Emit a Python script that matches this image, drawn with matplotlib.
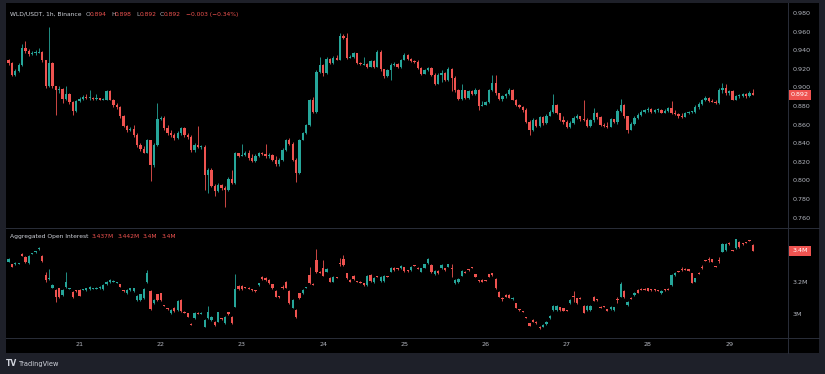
import matplotlib
matplotlib.use("Agg")
import matplotlib.pyplot as plt
import numpy as np
from matplotlib.patches import Rectangle
from matplotlib.lines import Line2D

# ---------------- data (WLD/USDT 1h, Binance) ----------------
first_open = 0.930
price_close = [
    0.926, 0.913, 0.918, 0.924, 0.942, 0.939, 0.936, 0.937, 0.938, 0.938,
    0.929, 0.901, 0.926, 0.901, 0.897, 0.898, 0.888, 0.893, 0.884, 0.875,
    0.885, 0.888, 0.890, 0.889, 0.889, 0.888, 0.889, 0.887, 0.887, 0.896,
    0.887, 0.881, 0.879, 0.869, 0.859, 0.854, 0.855, 0.849, 0.838, 0.834,
    0.830, 0.844, 0.817, 0.838, 0.866, 0.867, 0.856, 0.851, 0.849, 0.846,
    0.851, 0.856, 0.849, 0.847, 0.833, 0.838, 0.836, 0.836, 0.806, 0.811,
    0.794, 0.789, 0.795, 0.792, 0.790, 0.802, 0.797, 0.829, 0.826, 0.827,
    0.830, 0.824, 0.821, 0.826, 0.829, 0.828, 0.826, 0.827, 0.822, 0.818,
    0.822, 0.833, 0.844, 0.839, 0.822, 0.808, 0.844, 0.851, 0.860, 0.887,
    0.874, 0.917, 0.924, 0.915, 0.931, 0.926, 0.932, 0.930, 0.955, 0.953,
    0.932, 0.933, 0.937, 0.926, 0.925, 0.925, 0.922, 0.928, 0.922, 0.938,
    0.920, 0.912, 0.919, 0.924, 0.925, 0.922, 0.930, 0.935, 0.931, 0.928,
    0.927, 0.921, 0.914, 0.919, 0.921, 0.913, 0.904, 0.913, 0.915, 0.908,
    0.920, 0.910, 0.897, 0.888, 0.897, 0.889, 0.896, 0.893, 0.897, 0.880,
    0.881, 0.884, 0.897, 0.905, 0.894, 0.888, 0.891, 0.893, 0.897, 0.887,
    0.881, 0.879, 0.876, 0.863, 0.854, 0.865, 0.859, 0.868, 0.862, 0.869,
    0.874, 0.881, 0.872, 0.865, 0.863, 0.857, 0.862, 0.867, 0.869, 0.866,
    0.865, 0.859, 0.865, 0.873, 0.868, 0.860, 0.859, 0.857, 0.866, 0.863,
    0.875, 0.881, 0.869, 0.854, 0.861, 0.867, 0.870, 0.874, 0.876, 0.877,
    0.874, 0.876, 0.876, 0.873, 0.875, 0.878, 0.872, 0.871, 0.869, 0.868,
    0.872, 0.874, 0.874, 0.879, 0.882, 0.887, 0.889, 0.885, 0.884, 0.883,
    0.897, 0.899, 0.894, 0.896, 0.887, 0.891, 0.891, 0.893, 0.891, 0.894, 0.892,
]
price_high = [
    0.931, 0.927, 0.920, 0.926, 0.947, 0.950, 0.941, 0.939, 0.940, 0.942,
    0.939, 0.930, 0.965, 0.927, 0.902, 0.901, 0.899, 0.901, 0.894, 0.885,
    0.887, 0.890, 0.892, 0.893, 0.897, 0.890, 0.893, 0.889, 0.889, 0.897,
    0.897, 0.888, 0.883, 0.880, 0.870, 0.860, 0.857, 0.860, 0.851, 0.840,
    0.837, 0.845, 0.844, 0.840, 0.883, 0.869, 0.869, 0.860, 0.854, 0.851,
    0.853, 0.858, 0.857, 0.851, 0.849, 0.840, 0.859, 0.838, 0.838, 0.813,
    0.813, 0.796, 0.797, 0.796, 0.794, 0.804, 0.811, 0.831, 0.830, 0.839,
    0.832, 0.833, 0.828, 0.828, 0.831, 0.831, 0.839, 0.829, 0.828, 0.826,
    0.824, 0.835, 0.845, 0.846, 0.841, 0.824, 0.845, 0.852, 0.861, 0.888,
    0.890, 0.919, 0.933, 0.925, 0.933, 0.932, 0.934, 0.935, 0.958, 0.957,
    0.958, 0.935, 0.938, 0.937, 0.927, 0.933, 0.926, 0.930, 0.929, 0.940,
    0.940, 0.920, 0.920, 0.926, 0.927, 0.926, 0.931, 0.937, 0.936, 0.932,
    0.930, 0.929, 0.922, 0.920, 0.922, 0.922, 0.915, 0.915, 0.919, 0.917,
    0.922, 0.921, 0.912, 0.898, 0.904, 0.897, 0.897, 0.897, 0.899, 0.898,
    0.885, 0.885, 0.898, 0.913, 0.913, 0.894, 0.892, 0.894, 0.899, 0.898,
    0.888, 0.882, 0.880, 0.878, 0.865, 0.867, 0.866, 0.869, 0.869, 0.871,
    0.876, 0.893, 0.882, 0.873, 0.869, 0.865, 0.864, 0.869, 0.871, 0.869,
    0.886, 0.867, 0.866, 0.878, 0.874, 0.869, 0.862, 0.863, 0.867, 0.866,
    0.877, 0.888, 0.882, 0.869, 0.863, 0.869, 0.872, 0.876, 0.877, 0.879,
    0.878, 0.877, 0.878, 0.877, 0.877, 0.879, 0.885, 0.876, 0.873, 0.872,
    0.874, 0.875, 0.875, 0.881, 0.884, 0.888, 0.891, 0.890, 0.888, 0.887,
    0.899, 0.905, 0.904, 0.897, 0.897, 0.892, 0.893, 0.894, 0.894, 0.896, 0.898,
]
price_low = [
    0.924, 0.912, 0.912, 0.917, 0.923, 0.937, 0.934, 0.935, 0.935, 0.937,
    0.927, 0.899, 0.900, 0.899, 0.870, 0.894, 0.883, 0.887, 0.882, 0.870,
    0.874, 0.884, 0.887, 0.888, 0.887, 0.887, 0.887, 0.886, 0.886, 0.886,
    0.886, 0.879, 0.877, 0.867, 0.857, 0.852, 0.853, 0.847, 0.836, 0.832,
    0.829, 0.829, 0.799, 0.815, 0.837, 0.865, 0.854, 0.849, 0.847, 0.844,
    0.845, 0.849, 0.847, 0.845, 0.831, 0.831, 0.835, 0.834, 0.790, 0.786,
    0.793, 0.783, 0.788, 0.790, 0.771, 0.789, 0.796, 0.796, 0.825, 0.826,
    0.826, 0.822, 0.820, 0.820, 0.825, 0.827, 0.824, 0.824, 0.821, 0.816,
    0.816, 0.821, 0.832, 0.838, 0.821, 0.798, 0.807, 0.843, 0.850, 0.859,
    0.873, 0.873, 0.916, 0.912, 0.914, 0.925, 0.925, 0.929, 0.929, 0.952,
    0.931, 0.932, 0.932, 0.925, 0.924, 0.924, 0.921, 0.922, 0.921, 0.922,
    0.918, 0.910, 0.911, 0.908, 0.923, 0.921, 0.921, 0.929, 0.930, 0.927,
    0.926, 0.920, 0.913, 0.914, 0.918, 0.912, 0.903, 0.904, 0.906, 0.907,
    0.907, 0.896, 0.895, 0.887, 0.887, 0.888, 0.888, 0.892, 0.892, 0.876,
    0.880, 0.881, 0.883, 0.896, 0.892, 0.887, 0.885, 0.889, 0.892, 0.886,
    0.880, 0.878, 0.874, 0.862, 0.849, 0.853, 0.857, 0.857, 0.860, 0.861,
    0.869, 0.873, 0.871, 0.864, 0.861, 0.856, 0.856, 0.861, 0.866, 0.864,
    0.864, 0.857, 0.858, 0.863, 0.866, 0.859, 0.858, 0.856, 0.857, 0.862,
    0.861, 0.874, 0.867, 0.851, 0.854, 0.860, 0.866, 0.869, 0.873, 0.874,
    0.873, 0.873, 0.874, 0.872, 0.872, 0.874, 0.871, 0.870, 0.867, 0.867,
    0.868, 0.871, 0.872, 0.873, 0.877, 0.881, 0.885, 0.884, 0.884, 0.882,
    0.882, 0.894, 0.892, 0.892, 0.886, 0.887, 0.889, 0.890, 0.889, 0.890, 0.892,
]
price_open = [first_open] + price_close[:-1]   # hourly candles open at the previous close

# Aggregated open interest (millions)
oi_open = [
    3.332, 3.315, 3.315, 3.320, 3.381, 3.364, 3.322, 3.383, 3.394, 3.415,
    3.370, 3.248, 3.224, 3.167, 3.152, 3.163, 3.121, 3.173, 3.161, 3.142,
    3.150, 3.152, 3.154, 3.152, 3.159, 3.161, 3.163, 3.163, 3.159, 3.188,
    3.201, 3.207, 3.199, 3.188, 3.148, 3.131, 3.152, 3.146, 3.089, 3.089,
    3.099, 3.201, 3.146, 3.068, 3.125, 3.131, 3.055, 3.034, 3.004, 3.040,
    3.025, 3.089, 3.013, 3.004, 2.936, 2.972, 3.006, 3.004, 2.919, 2.972,
    2.962, 2.951, 2.951, 2.970, 2.941, 3.010, 2.983, 3.046, 3.180, 3.180,
    3.169, 3.165, 3.154, 3.148, 3.184, 3.237, 3.231, 3.216, 3.188, 3.146,
    3.112, 3.169, 3.205, 3.146, 3.040, 3.025, 3.131, 3.131, 3.165, 3.248,
    3.190, 3.343, 3.267, 3.294, 3.269, 3.231, 3.205, 3.233, 3.324, 3.349,
    3.258, 3.216, 3.243, 3.207, 3.203, 3.195, 3.184, 3.248, 3.201, 3.239,
    3.209, 3.209, 3.239, 3.269, 3.294, 3.288, 3.290, 3.296, 3.275, 3.279,
    3.309, 3.292, 3.269, 3.294, 3.322, 3.311, 3.252, 3.273, 3.290, 3.290,
    3.300, 3.292, 3.195, 3.201, 3.243, 3.267, 3.281, 3.296, 3.252, 3.211,
    3.216, 3.214, 3.252, 3.258, 3.222, 3.142, 3.101, 3.121, 3.121, 3.095,
    3.068, 3.027, 3.017, 2.979, 2.941, 2.962, 2.951, 2.919, 2.919, 2.936,
    2.972, 3.025, 3.025, 3.042, 3.036, 3.023, 3.068, 3.110, 3.099, 3.101,
    3.051, 3.025, 3.025, 3.110, 3.091, 3.044, 3.049, 3.030, 3.030, 3.025,
    3.091, 3.110, 3.148, 3.057, 3.101, 3.121, 3.152, 3.159, 3.159, 3.163,
    3.154, 3.154, 3.150, 3.131, 3.154, 3.159, 3.184, 3.248, 3.271, 3.286,
    3.286, 3.284, 3.258, 3.205, 3.260, 3.298, 3.341, 3.349, 3.347, 3.303,
    3.341, 3.396, 3.406, 3.453, 3.404, 3.417, 3.459, 3.447, 3.455, 3.468, 3.437,
]
oi_close = [
    3.349, 3.300, 3.324, 3.322, 3.370, 3.328, 3.370, 3.385, 3.396, 3.417,
    3.336, 3.216, 3.226, 3.184, 3.110, 3.110, 3.152, 3.201, 3.163, 3.110,
    3.144, 3.116, 3.157, 3.163, 3.173, 3.163, 3.165, 3.173, 3.184, 3.205,
    3.216, 3.209, 3.201, 3.173, 3.146, 3.152, 3.163, 3.163, 3.116, 3.125,
    3.159, 3.258, 3.032, 3.089, 3.089, 3.089, 3.053, 3.032, 3.025, 3.019,
    3.082, 3.019, 3.010, 2.983, 2.934, 3.008, 3.004, 3.006, 2.962, 3.010,
    2.983, 2.930, 3.010, 2.968, 2.983, 2.998, 2.941, 3.159, 3.159, 3.159,
    3.167, 3.163, 3.152, 3.146, 3.195, 3.222, 3.216, 3.195, 3.163, 3.110,
    3.110, 3.167, 3.167, 3.068, 3.089, 2.983, 3.099, 3.152, 3.169, 3.195,
    3.188, 3.264, 3.264, 3.243, 3.286, 3.205, 3.237, 3.231, 3.322, 3.311,
    3.226, 3.205, 3.222, 3.205, 3.201, 3.184, 3.243, 3.209, 3.231, 3.237,
    3.237, 3.241, 3.237, 3.294, 3.279, 3.286, 3.307, 3.273, 3.273, 3.300,
    3.307, 3.290, 3.290, 3.315, 3.349, 3.264, 3.273, 3.258, 3.311, 3.279,
    3.315, 3.290, 3.216, 3.222, 3.273, 3.264, 3.279, 3.294, 3.237, 3.209,
    3.205, 3.211, 3.237, 3.248, 3.163, 3.110, 3.099, 3.110, 3.104, 3.104,
    3.040, 3.025, 3.015, 2.977, 2.926, 2.951, 2.941, 2.909, 2.930, 2.951,
    2.987, 3.051, 3.051, 3.025, 3.021, 3.021, 3.089, 3.108, 3.068, 3.099,
    3.008, 3.051, 3.051, 3.085, 3.089, 3.042, 3.047, 3.021, 3.047, 3.042,
    3.089, 3.190, 3.106, 3.078, 3.099, 3.135, 3.135, 3.157, 3.157, 3.148,
    3.152, 3.152, 3.148, 3.148, 3.152, 3.157, 3.248, 3.262, 3.269, 3.284,
    3.284, 3.275, 3.199, 3.226, 3.258, 3.296, 3.339, 3.347, 3.332, 3.301,
    3.339, 3.444, 3.444, 3.444, 3.402, 3.474, 3.423, 3.444, 3.453, 3.466, 3.400,
]
oi_high = [
    3.353, 3.320, 3.328, 3.326, 3.385, 3.370, 3.375, 3.389, 3.400, 3.428,
    3.375, 3.269, 3.286, 3.188, 3.157, 3.167, 3.159, 3.264, 3.167, 3.146,
    3.154, 3.157, 3.161, 3.167, 3.178, 3.167, 3.169, 3.178, 3.188, 3.209,
    3.220, 3.214, 3.205, 3.192, 3.152, 3.157, 3.167, 3.167, 3.121, 3.129,
    3.163, 3.279, 3.150, 3.093, 3.129, 3.135, 3.059, 3.038, 3.029, 3.044,
    3.087, 3.093, 3.017, 3.008, 2.941, 3.013, 3.010, 3.010, 2.966, 3.053,
    2.987, 2.955, 3.015, 2.974, 2.987, 3.015, 2.987, 3.252, 3.184, 3.184,
    3.173, 3.169, 3.159, 3.152, 3.199, 3.241, 3.235, 3.220, 3.192, 3.150,
    3.116, 3.184, 3.209, 3.150, 3.093, 3.029, 3.135, 3.157, 3.173, 3.300,
    3.195, 3.413, 3.271, 3.343, 3.290, 3.235, 3.241, 3.237, 3.353, 3.375,
    3.262, 3.220, 3.248, 3.211, 3.207, 3.199, 3.248, 3.252, 3.235, 3.243,
    3.241, 3.245, 3.243, 3.298, 3.298, 3.292, 3.311, 3.300, 3.279, 3.305,
    3.313, 3.296, 3.294, 3.320, 3.353, 3.315, 3.277, 3.277, 3.315, 3.294,
    3.320, 3.315, 3.220, 3.226, 3.277, 3.271, 3.286, 3.300, 3.256, 3.216,
    3.220, 3.218, 3.256, 3.262, 3.226, 3.146, 3.108, 3.125, 3.125, 3.108,
    3.072, 3.032, 3.021, 2.983, 2.945, 2.966, 2.955, 2.924, 2.934, 2.955,
    2.991, 3.055, 3.055, 3.047, 3.040, 3.028, 3.093, 3.148, 3.104, 3.106,
    3.055, 3.055, 3.055, 3.114, 3.095, 3.049, 3.053, 3.034, 3.051, 3.047,
    3.110, 3.205, 3.152, 3.083, 3.106, 3.140, 3.157, 3.163, 3.163, 3.167,
    3.159, 3.159, 3.154, 3.152, 3.159, 3.163, 3.252, 3.267, 3.275, 3.301,
    3.290, 3.288, 3.262, 3.231, 3.265, 3.311, 3.345, 3.364, 3.351, 3.307,
    3.364, 3.449, 3.449, 3.457, 3.408, 3.478, 3.463, 3.451, 3.459, 3.472, 3.442,
]
oi_low = [
    3.328, 3.296, 3.311, 3.315, 3.366, 3.324, 3.317, 3.379, 3.389, 3.409,
    3.332, 3.205, 3.218, 3.163, 3.078, 3.104, 3.114, 3.167, 3.157, 3.104,
    3.140, 3.112, 3.152, 3.148, 3.154, 3.159, 3.159, 3.159, 3.154, 3.184,
    3.197, 3.203, 3.195, 3.169, 3.142, 3.127, 3.148, 3.142, 3.085, 3.085,
    3.095, 3.197, 3.027, 3.063, 3.085, 3.085, 3.049, 3.027, 3.000, 3.015,
    3.021, 3.015, 3.006, 2.979, 2.930, 2.968, 3.000, 3.000, 2.915, 2.968,
    2.958, 2.926, 2.947, 2.964, 2.936, 2.993, 2.936, 3.042, 3.154, 3.154,
    3.163, 3.159, 3.148, 3.142, 3.180, 3.218, 3.212, 3.190, 3.159, 3.106,
    3.104, 3.159, 3.163, 3.063, 3.036, 2.972, 3.095, 3.127, 3.163, 3.188,
    3.184, 3.260, 3.260, 3.239, 3.264, 3.201, 3.201, 3.226, 3.307, 3.307,
    3.222, 3.201, 3.218, 3.201, 3.197, 3.180, 3.180, 3.205, 3.197, 3.233,
    3.205, 3.205, 3.233, 3.264, 3.275, 3.281, 3.286, 3.269, 3.269, 3.275,
    3.303, 3.286, 3.264, 3.290, 3.317, 3.260, 3.248, 3.254, 3.286, 3.275,
    3.296, 3.237, 3.190, 3.197, 3.239, 3.260, 3.275, 3.290, 3.233, 3.205,
    3.201, 3.207, 3.233, 3.243, 3.159, 3.106, 3.082, 3.106, 3.099, 3.091,
    3.036, 3.021, 3.010, 2.972, 2.921, 2.947, 2.936, 2.905, 2.915, 2.932,
    2.968, 3.021, 3.021, 3.021, 3.017, 3.017, 3.063, 3.078, 3.063, 3.095,
    3.004, 3.021, 3.021, 3.080, 3.085, 3.038, 3.042, 3.017, 3.025, 3.021,
    3.072, 3.106, 3.102, 3.053, 3.095, 3.116, 3.131, 3.152, 3.152, 3.144,
    3.148, 3.148, 3.144, 3.127, 3.148, 3.152, 3.180, 3.243, 3.264, 3.275,
    3.279, 3.271, 3.195, 3.201, 3.254, 3.284, 3.334, 3.332, 3.328, 3.296,
    3.326, 3.392, 3.402, 3.440, 3.398, 3.413, 3.419, 3.440, 3.449, 3.461, 3.400,
]

first_candle_hour = 3          # first candle: 20th, 03:00
day_labels = ["21", "22", "23", "24", "25", "26", "27", "28", "29"]
price_ticks = [0.760, 0.780, 0.800, 0.820, 0.840, 0.860, 0.880, 0.900, 0.920, 0.940, 0.960, 0.980]
oi_ticks = [3.0, 3.2]
oi_tick_labels = ["3M", "3.2M"]

# ---------------- style ----------------
UP = "#26a69a"
DOWN = "#ef5350"
TXT = "#b2b5be"
SEP = "#2a2e39"
W, H = 825, 374

fig = plt.figure(figsize=(W / 100, H / 100), dpi=100)
fig.patch.set_facecolor("#1e2029")

# black chart canvas as a background axes
bg = fig.add_axes([6 / W, 1 - 353 / H, 813 / W, 350 / H], zorder=-10)
bg.set_facecolor("#000000")
bg.set_xticks([])
bg.set_yticks([])
for s in bg.spines.values():
    s.set_visible(False)

ax1 = fig.add_axes([6 / W, 1 - 228 / H, 782 / W, 225 / H], zorder=1)
ax2 = fig.add_axes([6 / W, 1 - 338 / H, 782 / W, 110 / H], zorder=1)
for ax in (ax1, ax2):
    ax.patch.set_alpha(0)
    for s in ax.spines.values():
        s.set_visible(False)
    ax.set_xlim(-0.74, 230.4)
    ax.tick_params(length=0)
ax1.set_ylim(0.7489, 0.99075)
ax2.set_ylim(2.8476, 3.546)


def candles(ax, o, h, l, c, min_body):
    o, h, l, c = (np.asarray(a, dtype=float) for a in (o, h, l, c))
    x = np.arange(len(c))
    cols = np.where(c >= o, UP, DOWN)
    lo = np.minimum(np.minimum(l, o), c)
    hi = np.maximum(np.maximum(h, o), c)
    ax.vlines(x, lo, hi, colors=cols, linewidth=0.6, zorder=2)
    bot = np.minimum(o, c)
    bh = np.abs(c - o)
    small = bh < min_body
    bot = np.where(small, (o + c) / 2 - min_body / 2, bot)
    bh = np.where(small, min_body, bh)
    ax.bar(x, bh, bottom=bot, width=0.68, color=cols, linewidth=0, zorder=3)


candles(ax1, price_open, price_high, price_low, price_close, 0.0011)
candles(ax2, oi_open, oi_high, oi_low, oi_close, 0.0065)

# price scale
ax1.yaxis.tick_right()
ax1.set_yticks(price_ticks)
ax1.set_yticklabels([f"{v:.3f}" for v in price_ticks])
ax1.tick_params(axis="y", labelsize=4.6, labelcolor=TXT, pad=3)
ax1.set_xticks([])
ax2.yaxis.tick_right()
ax2.set_yticks(oi_ticks)
ax2.set_yticklabels(oi_tick_labels)
ax2.tick_params(axis="y", labelsize=4.6, labelcolor=TXT, pad=3)

# time scale
day_pos = [(k + 1) * 24 - first_candle_hour for k in range(len(day_labels))]
ax2.set_xticks(day_pos)
ax2.set_xticklabels(day_labels)
ax2.tick_params(axis="x", labelsize=4.6, labelcolor=TXT, pad=3.2)

# separators
for (x0, y0, x1, y1) in [(788, 3, 788, 353), (6, 228, 819, 228), (6, 338, 819, 338)]:
    fig.add_artist(Line2D([x0 / W, x1 / W], [1 - y0 / H, 1 - y1 / H], color=SEP, lw=0.7,
                          transform=fig.transFigure, zorder=5))


def value_box(ax, value, label):
    fig.canvas.draw()
    _, ydisp = ax.transData.transform((0, value))
    yf = fig.transFigure.inverted().transform((0, ydisp))[1]
    bh = 10 / H
    fig.add_artist(Rectangle((789 / W, yf - bh / 2), 22 / W, bh, transform=fig.transFigure,
                             facecolor=DOWN, edgecolor="none", zorder=6))
    fig.text(800 / W, yf, label, color="white", fontsize=4.6, ha="center", va="center", zorder=7)


value_box(ax1, price_close[-1], f"{price_close[-1]:.3f}")
value_box(ax2, oi_close[-1], f"{oi_close[-1]:.1f}M")

# headers
hy = 1 - 14.5 / H
fig.text(10 / W, hy, "WLD/USDT, 1h, Binance", color="#d1d4dc", fontsize=4.3, va="center")
parts = [(86, "O", TXT), (90, f"{price_open[-1]:.3f}", DOWN), (111, "H", TXT), (115, f"{price_high[-1]:.3f}", DOWN),
         (136, "L", TXT), (139.5, f"{price_low[-1]:.3f}", DOWN), (160, "C", TXT), (164, f"{price_close[-1]:.3f}", DOWN),
         (186, "\u22120.003 (\u22120.34%)", DOWN)]
for px, s, col in parts:
    fig.text(px / W, hy, s, color=col, fontsize=4.3, va="center")

oy = 1 - 236.5 / H
fig.text(10 / W, oy, "Aggregated Open Interest", color="#d1d4dc", fontsize=4.3, va="center")
oi_parts = [(92, f"{oi_open[-1]:.3f}M"), (118, f"{oi_high[-1]:.3f}M"), (143, f"{oi_low[-1]:.1f}M"),
            (162, f"{oi_close[-1]:.1f}M")]
for px, s in oi_parts:
    fig.text(px / W, oy, s, color=DOWN, fontsize=4.3, va="center")

# footer logo
fig.text(6 / W, 1 - 364 / H, "TV", color="#d1d4dc", fontsize=5.5, fontweight="bold", va="center")
fig.text(19 / W, 1 - 364 / H, "TradingView", color="#d1d4dc", fontsize=4.8, va="center")

fig.savefig("out.png", dpi=100, facecolor=fig.get_facecolor())
